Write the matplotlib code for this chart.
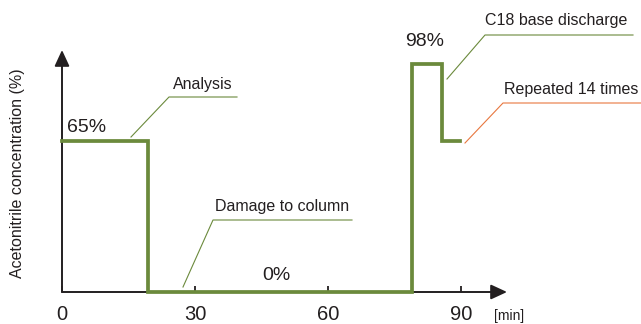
import matplotlib.pyplot as plt

plt.rcParams["font.family"] = ["Liberation Sans", "DejaVu Sans"]

# gradient program: time (min) vs acetonitrile concentration (%)
times = [0, 19.5, 19.5, 79, 79, 85.7, 85.7, 89.8]
conc = [65, 65, 0, 0, 98, 98, 65, 65]

tick_vals = [0, 30, 60, 90]
tick_labels = ["0", "30", "60", "90"]

level_labels = ["65%", "98%", "0%"]
notes = ["Analysis", "Damage to column", "C18 base discharge", "Repeated 14 times"]

GREEN = "#6b8a3c"
ORANGE = "#e8773f"
DARK = "#231f20"


def px(x, y):
    # reference pixel -> data coordinates
    return ((x - 62) / 4.43, (292 - y) / 2.33)


fig = plt.figure(figsize=(6.41, 3.24), dpi=100)
ax = fig.add_axes([0, 0, 1, 1])
ax.set_xlim(-62 / 4.43, 579 / 4.43)
ax.set_ylim(-32 / 2.33, 292 / 2.33)
for s in ax.spines.values():
    s.set_visible(False)
ax.spines["bottom"].set_position(("data", 0))
ax.set_yticks([])
ax.set_xticks(tick_vals, tick_labels)
ax.tick_params(axis="x", direction="in", length=4.5, width=1.3,
               color=DARK, labelcolor=DARK, labelsize=14.5, pad=9)

# axes with arrows
arrow = dict(arrowstyle="-|>,head_length=0.65,head_width=0.3",
             color=DARK, lw=1.4, shrinkA=0, shrinkB=0, mutation_scale=15)
ax.annotate("", xy=px(507, 292), xytext=px(62, 292), arrowprops=arrow)
ax.annotate("", xy=px(62, 50), xytext=px(62, 292), arrowprops=arrow)

ax.plot(times, conc, color=GREEN, lw=2.7, solid_joinstyle="miter", zorder=3)

ax.text(*px(18, 173), "Acetonitrile concentration (%)", rotation=90,
        ha="center", va="center", fontsize=11.5, color=DARK)
ax.text(*px(494, 316), "[min]", ha="left", va="center", fontsize=10, color=DARK)

for lab, pos in zip(level_labels, [(87, 127), (425, 42), (276, 276)]):
    ax.text(*px(*pos), lab, ha="center", va="center", fontsize=14, color=DARK)

leaders = [
    ([(131, 137), (169, 97), (237, 97)], GREEN, (173, 84)),
    ([(183, 287), (213, 220), (352, 220)], GREEN, (215, 206)),
    ([(447, 79), (485, 35), (633, 35)], GREEN, (485, 21)),
    ([(465, 143), (503, 103), (641, 103)], ORANGE, (504, 89)),
]
for note, (pts, col, tpos) in zip(notes, leaders):
    xs, ys = zip(*[px(*p) for p in pts])
    ax.plot(xs, ys, color=col, lw=0.8)
    ax.text(*px(*tpos), note, ha="left", va="center", fontsize=11.5, color=DARK)

fig.savefig("out.png", dpi=100)
plt.close(fig)
